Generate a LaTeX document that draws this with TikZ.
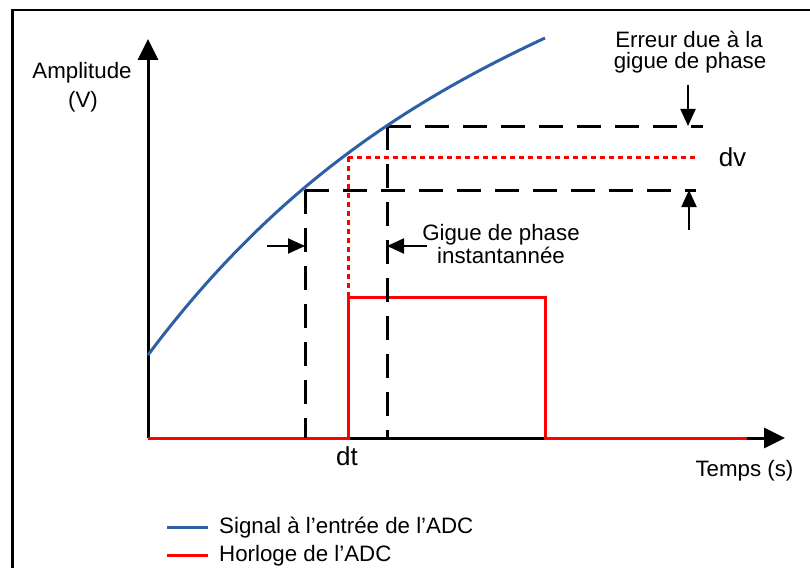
\documentclass[tikz,border=0pt]{standalone}
\usepackage{fontspec}
\setmainfont{Liberation Sans}
\usetikzlibrary{arrows.meta}
\definecolor{sigblue}{RGB}{46,96,168}
\definecolor{clkred}{RGB}{255,0,0}
\begin{document}
\begin{tikzpicture}[x=1pt,y=-1pt,
  lbl/.style={inner sep=0pt,font=\fontsize{22.3}{23}\selectfont},
  biglbl/.style={inner sep=0pt,font=\fontsize{26}{27}\selectfont},
  axisline/.style={line width=3pt,-{Triangle[length=21pt 0,width=20pt 0]}},
  dimarrow/.style={line width=2pt,-{Triangle[length=17pt 0,width=15pt 0]}},
  blkdash/.style={line width=3pt,dash pattern=on 24pt off 14pt},
  reddot/.style={line width=3pt,clkred,dash pattern=on 5pt off 4pt},
  sigline/.style={line width=3pt,sigblue},
  clkline/.style={line width=3pt,clkred}]
\useasboundingbox (0,0) rectangle (810,567);
\draw[line width=2.5pt] (12.5,10) rectangle (830,590);
% coordinates
\coordinate (O) at (148,438);
\coordinate (ytop) at (148,39);
\coordinate (xend) at (785,438);
\coordinate (s0) at (148,355);
\coordinate (s1) at (545,38);
\coordinate (pA) at (305,190);
\coordinate (pB) at (348,157);
\coordinate (pC) at (387,126);
\coordinate (pAx) at (305,438);
\coordinate (pCx) at (387,438);
\coordinate (pAe) at (696,190);
\coordinate (pBe) at (699,157);
\coordinate (pCe) at (703,126);
\coordinate (c0) at (348,438);
\coordinate (c1) at (348,297);
\coordinate (c2) at (545,297);
\coordinate (c3) at (545,438);
\coordinate (c4) at (747,438);
% axes
\draw[axisline] (O) -- (ytop);
\draw[axisline] (O) -- (xend);
% clock
\draw[clkline,line join=miter] (O) -- (c0) -- (c1) -- (c2) -- (c3) -- (c4);
% dashed guides
\draw[blkdash] (pA) -- (pAe);
\draw[blkdash] (pA) -- (pAx);
\draw[blkdash] (pC) -- (pCe);
\draw[blkdash] (pC) -- (pCx);
\draw[reddot] (pB) -- (pBe);
\draw[reddot] (pB) -- (c1);
% signal
\draw[sigline] (s0) .. controls (275,185) and (412,100) .. (s1);
% dimension arrows
\coordinate (dtl) at (267,246);
\coordinate (dtlt) at (305,246);
\coordinate (dtr) at (427,246);
\coordinate (dtrt) at (387,246);
\coordinate (dvt) at (688,85);
\coordinate (dvtt) at (688,126);
\coordinate (dvb) at (689,230);
\coordinate (dvbt) at (689,190);
\draw[dimarrow] (dtl) -- (dtlt);
\draw[dimarrow] (dtr) -- (dtrt);
\draw[dimarrow] (dvt) -- (dvtt);
\draw[dimarrow] (dvb) -- (dvbt);
% labels
\node[lbl,anchor=base] (amp1) at (82,79) {Amplitude};
\node[lbl,anchor=base] (amp2) at (83,108) {(V)};
\node[lbl,anchor=base] (err1) at (689,48) {Erreur due à la};
\node[lbl,anchor=base] (err2) at (690,69) {gigue de phase};
\node[lbl,anchor=base] (gig1) at (501,240) {Gigue de phase};
\node[lbl,anchor=base] (gig2) at (501,263) {instantannée};
\node[biglbl,anchor=base] (dv) at (732.5,166) {dv};
\node[biglbl,anchor=base] (dt) at (347,465) {dt};
\node[lbl,anchor=base] (temps) at (744.5,476) {Temps (s)};
% legend
\coordinate (lb0) at (167,527);
\coordinate (lb1) at (208,527);
\coordinate (lr0) at (167,555);
\coordinate (lr1) at (208,555);
\draw[sigline] (lb0) -- (lb1);
\draw[clkline] (lr0) -- (lr1);
\node[lbl,anchor=base west] (leg1) at (219,533) {Signal à l’entrée de l’ADC};
\node[lbl,anchor=base west] (leg2) at (219,561) {Horloge de l’ADC};
\end{tikzpicture}
\end{document}
